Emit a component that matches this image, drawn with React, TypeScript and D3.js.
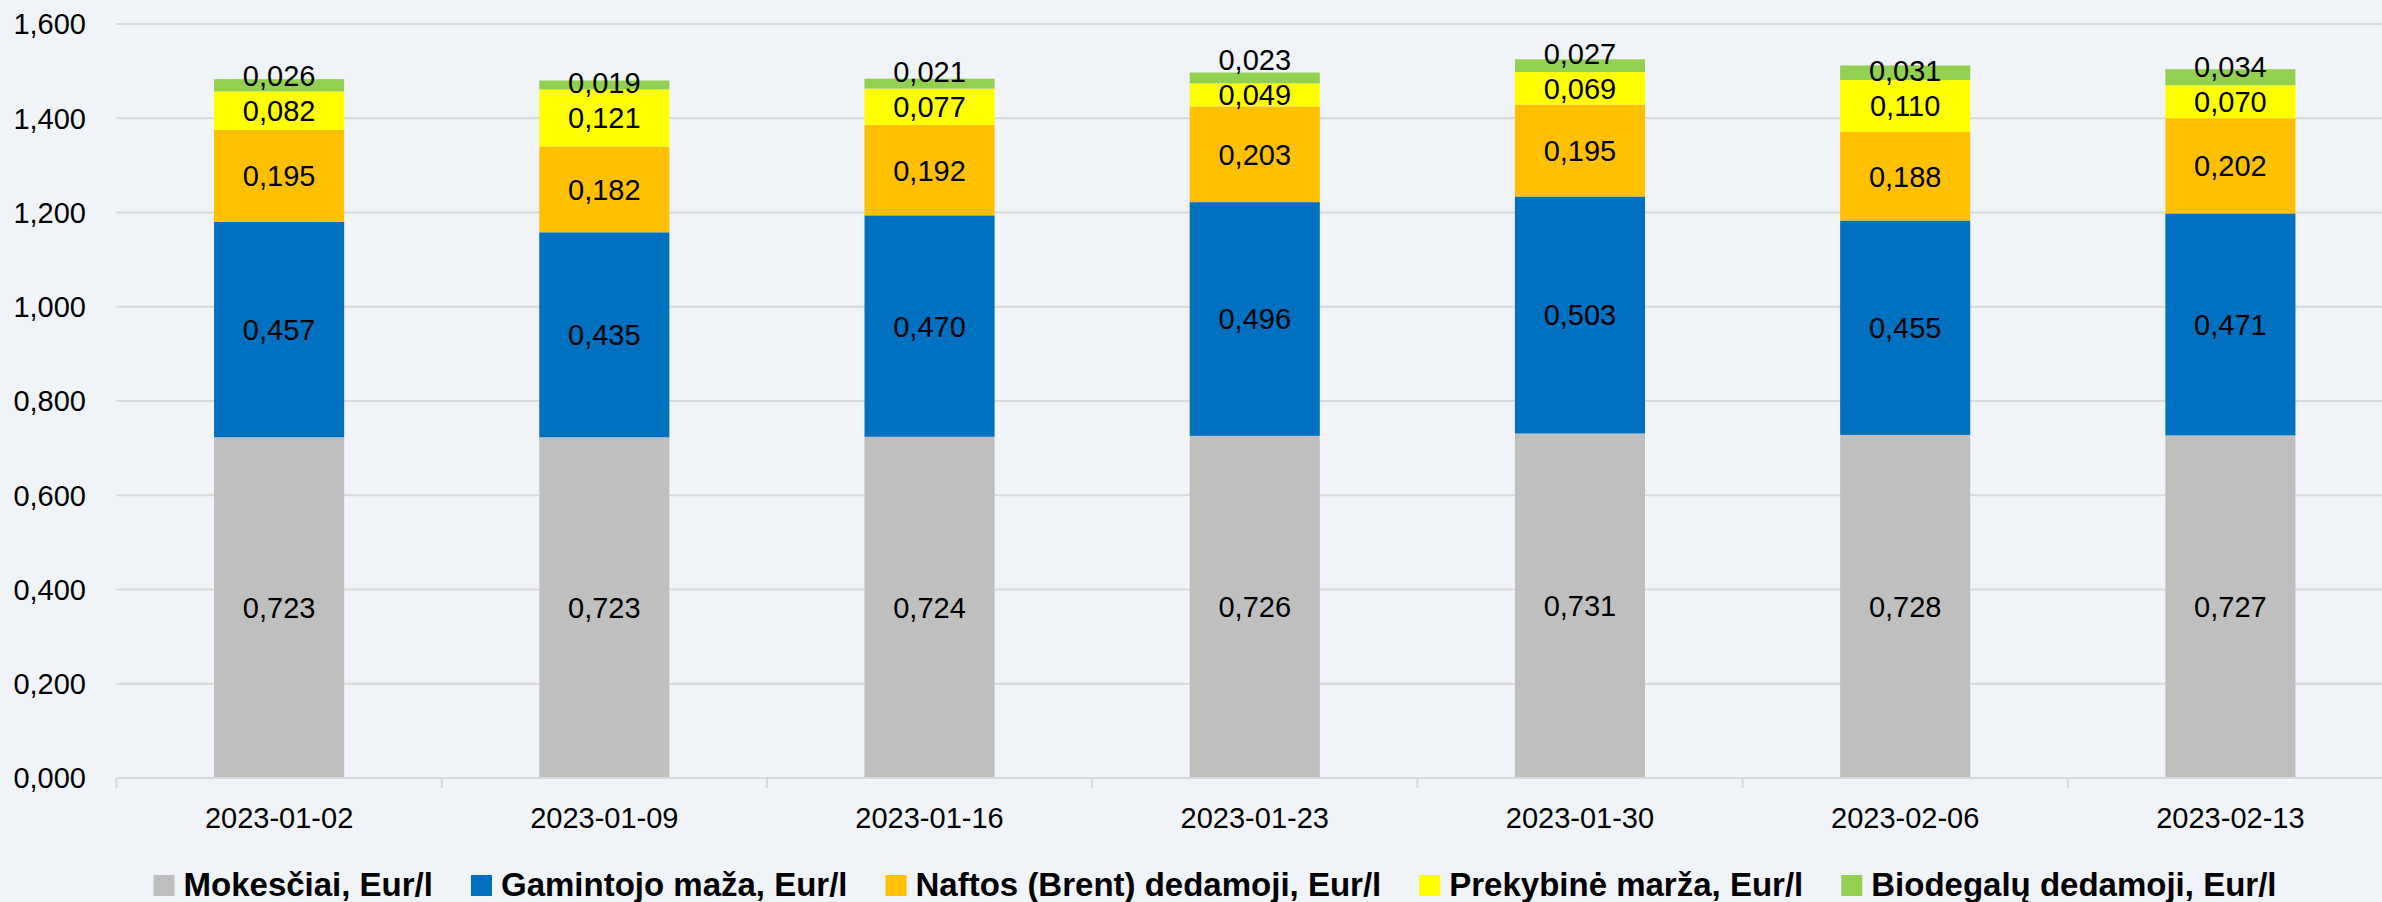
import React, { useEffect, useRef } from "react";
import * as d3 from "d3";

const dates = [
  "2023-01-02",
  "2023-01-09",
  "2023-01-16",
  "2023-01-23",
  "2023-01-30",
  "2023-02-06",
  "2023-02-13",
];

const taxes = [0.723, 0.723, 0.724, 0.726, 0.731, 0.728, 0.727];
const producer = [0.457, 0.435, 0.47, 0.496, 0.503, 0.455, 0.471];
const brent = [0.195, 0.182, 0.192, 0.203, 0.195, 0.188, 0.202];
const margin = [0.082, 0.121, 0.077, 0.049, 0.069, 0.11, 0.07];
const bio = [0.026, 0.019, 0.021, 0.023, 0.027, 0.031, 0.034];

const seriesNames = [
  "Mokesčiai, Eur/l",
  "Gamintojo maža, Eur/l",
  "Naftos (Brent) dedamoji, Eur/l",
  "Prekybinė marža, Eur/l",
  "Biodegalų dedamoji, Eur/l",
];
const seriesValues = [taxes, producer, brent, margin, bio];
const colors = ["#bfbfbf", "#0070c0", "#ffc000", "#ffff00", "#92d050"];

const yTicks = [0, 0.2, 0.4, 0.6, 0.8, 1.0, 1.2, 1.4, 1.6];

const W = 2382;
const H = 902;
const FONT = "'Liberation Sans', Arial, sans-serif";

const fmt = (v: number) => d3.format(".3f")(v).replace(".", ",");

const App = () => {
  const ref = useRef<SVGSVGElement>(null);

  useEffect(() => {
    document.body.style.margin = "0";
    document.body.style.overflow = "hidden";

    const svg = d3.select(ref.current);
    svg.selectAll("*").remove();

    const left = 116.5;
    const right = 2393;
    const top = 24;
    const bottom = 778;

    const x = d3
      .scaleBand()
      .domain(dates)
      .range([left, right])
      .paddingInner(0.6)
      .paddingOuter(0.3);
    const step = x.step();
    const y = d3.scaleLinear().domain([0, 1.6]).range([bottom, top]);

    const rows = dates.map((d, i) => {
      const r: any = { date: d };
      seriesNames.forEach((n, k) => (r[n] = seriesValues[k][i]));
      return r;
    });
    const stacked = d3.stack().keys(seriesNames)(rows);

    // gridlines
    svg
      .append("g")
      .selectAll("line")
      .data(yTicks.slice(1))
      .join("line")
      .attr("x1", left)
      .attr("x2", right)
      .attr("y1", (d) => y(d))
      .attr("y2", (d) => y(d))
      .attr("stroke", "#d9d9d9")
      .attr("stroke-width", 2);

    // y labels
    svg
      .append("g")
      .selectAll("text")
      .data(yTicks)
      .join("text")
      .attr("x", 86)
      .attr("y", (d) => y(d))
      .attr("dy", "0.36em")
      .attr("text-anchor", "end")
      .attr("font-family", FONT)
      .attr("font-size", 29)
      .attr("fill", "#000")
      .text((d) => fmt(d));

    // bars
    svg
      .append("g")
      .selectAll("g")
      .data(stacked)
      .join("g")
      .attr("fill", (_d, i) => colors[i])
      .selectAll("rect")
      .data((d) => d)
      .join("rect")
      .attr("x", (d: any) => x(d.data.date)!)
      .attr("width", x.bandwidth())
      .attr("y", (d) => y(d[1]))
      .attr("height", (d) => y(d[0]) - y(d[1]));

    // x axis
    svg
      .append("line")
      .attr("x1", left)
      .attr("x2", right)
      .attr("y1", bottom)
      .attr("y2", bottom)
      .attr("stroke", "#d9d9d9")
      .attr("stroke-width", 2);
    svg
      .append("g")
      .selectAll("line")
      .data(d3.range(dates.length + 1))
      .join("line")
      .attr("x1", (i) => left + i * step)
      .attr("x2", (i) => left + i * step)
      .attr("y1", bottom)
      .attr("y2", bottom + 10)
      .attr("stroke", "#d9d9d9")
      .attr("stroke-width", 2);
    svg
      .append("g")
      .selectAll("text")
      .data(dates)
      .join("text")
      .attr("x", (d) => x(d)! + x.bandwidth() / 2)
      .attr("y", 818)
      .attr("dy", "0.36em")
      .attr("text-anchor", "middle")
      .attr("font-family", FONT)
      .attr("font-size", 29)
      .text((d) => d);

    // data labels, pushed up when they would collide
    const labels: { x: number; y: number; t: string }[] = [];
    dates.forEach((d, i) => {
      let prev = Infinity;
      stacked.forEach((s) => {
        const seg = s[i];
        let cy = (y(seg[0]) + y(seg[1])) / 2;
        if (prev - cy < 35) cy = prev - 35;
        prev = cy;
        labels.push({ x: x(d)! + x.bandwidth() / 2, y: cy, t: fmt(seg[1] - seg[0]) });
      });
    });
    svg
      .append("g")
      .selectAll("text")
      .data(labels)
      .join("text")
      .attr("x", (d) => d.x)
      .attr("y", (d) => d.y)
      .attr("dy", "0.36em")
      .attr("text-anchor", "middle")
      .attr("font-family", FONT)
      .attr("font-size", 29)
      .attr("fill", "#000")
      .text((d) => d.t);

    // legend
    const lg = svg.append("g");
    const items = seriesNames.map((n, i) => {
      const g = lg.append("g");
      g.append("rect")
        .attr("y", 875)
        .attr("width", 21)
        .attr("height", 21)
        .attr("fill", colors[i]);
      const t = g
        .append("text")
        .attr("x", 30)
        .attr("y", 896)
        .attr("font-family", FONT)
        .attr("font-weight", "bold")
        .attr("font-size", 33)
        .text(n);
      const w = 30 + (t.node() as SVGTextElement).getComputedTextLength();
      return { g, w };
    });
    const gap = 38;
    const total = d3.sum(items, (d) => d.w) + gap * (items.length - 1);
    let cx = 1215 - total / 2;
    items.forEach((it) => {
      it.g.attr("transform", `translate(${cx},0)`);
      cx += it.w + gap;
    });
  }, []);

  return (
    <svg
      ref={ref}
      width={W}
      height={H}
      style={{ display: "block", background: "#f0f3f7" }}
    />
  );
};

export default App;
